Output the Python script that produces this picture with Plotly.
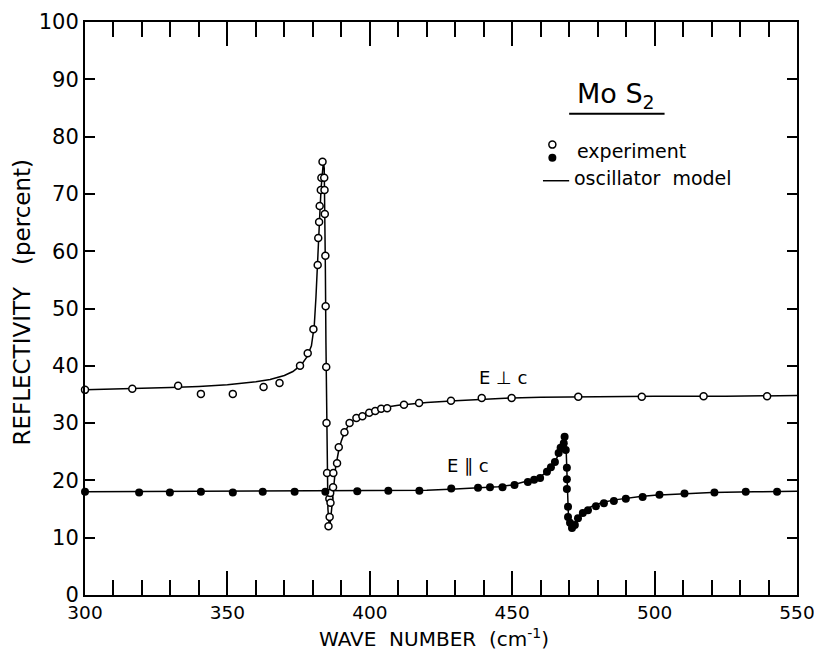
import plotly.graph_objects as go

# ---- data ----
perp_exp_x = [300, 316.6, 332.7, 340.7, 351.9, 362.7, 368.3, 375.5, 378.2, 380.2,
              381.7, 381.9, 382.2, 382.4, 382.8, 383.0, 383.4,
              384.0, 384.1, 384.2, 384.4, 384.5, 384.7, 384.8, 385.0,
              385.8, 386.2, 385.9, 385.5, 386.1, 387.1, 387.2,
              388.5, 389.1, 391.1, 392.9, 395.3, 397.4, 399.8, 401.9, 404.0, 406.1,
              412.0, 417.3, 428.5, 439.3, 449.8, 473.2, 495.5, 517.2, 539.5]
perp_exp_y = [35.8, 36.0, 36.5, 35.1, 35.1, 36.3, 37.0, 40.0, 42.2, 46.4,
              57.6, 62.3, 65.1, 67.9, 70.7, 72.8, 75.6,
              72.8, 70.7, 66.5, 59.2, 50.4, 39.8, 30.0, 21.3,
              16.8, 16.1, 13.6, 12.0, 17.8, 18.8, 21.3,
              23.0, 25.8, 28.4, 30.0, 30.9, 31.2, 31.8, 32.1, 32.5, 32.6,
              33.2, 33.5, 33.9, 34.4, 34.4, 34.6, 34.6, 34.7, 34.7]

par_exp_x = [300, 319.0, 329.8, 340.7, 351.9, 362.4, 373.6, 384.4, 395.6, 406.5,
             417.4, 428.6, 438.0, 442.2, 446.6, 450.8, 455.5, 457.7, 459.8, 462.2,
             463.6, 465.0, 466.3, 467.0, 468.1, 468.4, 468.8, 469.2, 469.2, 469.2,
             469.6, 469.6, 470.3, 471.0, 472.0, 473.1, 474.8, 476.6, 479.4, 482.2,
             485.7, 489.9, 495.8, 501.7, 510.5, 521.0, 532.0, 543.0]
par_exp_y = [18.0, 17.9, 17.9, 18.0, 17.9, 18.0, 18.0, 18.0, 18.1, 18.2,
             18.2, 18.6, 18.7, 18.8, 18.8, 19.2, 19.7, 20.1, 20.4, 21.5,
             22.3, 23.2, 24.8, 25.7, 26.5, 27.6, 25.3, 22.2, 20.2, 18.5,
             15.4, 13.6, 12.6, 11.7, 12.2, 13.4, 14.3, 14.8, 15.5, 16.0,
             16.4, 16.8, 17.1, 17.5, 17.7, 17.9, 18.0, 18.0]

perp_model_x = [300, 310, 320, 330, 340, 350, 360, 365, 370, 373, 376, 378, 379.5,
                380.5, 381.1, 381.7, 382.1, 382.5, 382.9, 383.3, 383.7, 384.0,
                384.2, 384.4, 384.6, 384.8, 385.0, 385.3, 385.7, 386.1, 386.6,
                387.2, 388.0, 389.0, 390.0, 391.0, 392.5, 394, 396, 398, 400, 403,
                406, 410, 415, 420, 430, 440, 450, 460, 475, 500, 525, 550]
perp_model_y = [35.8, 35.9, 36.0, 36.2, 36.4, 36.7, 37.2, 37.6, 38.3, 39.0, 40.2, 41.6,
                43.5, 47.0, 52.0, 57.5, 62.5, 67.0, 71.0, 74.3, 75.6, 74.5,
                68.0, 57.0, 44.0, 31.0, 21.0, 15.0, 12.3, 12.5, 15.0,
                18.8, 22.3, 25.0, 26.9, 28.2, 29.6, 30.4, 31.0, 31.5, 31.9, 32.4,
                32.8, 33.1, 33.4, 33.6, 33.9, 34.2, 34.4, 34.5, 34.6, 34.7, 34.7, 34.8]

par_model_x = [300, 350, 400, 420, 430, 440, 445, 450, 454, 457, 460, 462, 463.5,
               465, 466.3, 467.3, 468.0, 468.5, 468.9, 469.2, 469.5, 469.8, 470.2,
               470.7, 471.2, 472, 473, 474.5, 476.5, 479, 482, 486, 490, 495, 500,
               510, 520, 535, 550]
par_model_y = [18.0, 18.1, 18.2, 18.3, 18.5, 18.7, 18.9, 19.2, 19.7, 20.1, 20.7, 21.4,
               22.2, 23.2, 24.6, 26.0, 27.2, 27.8, 26.0, 21.0, 16.0, 13.0, 11.8,
               11.5, 11.8, 12.5, 13.5, 14.4, 15.1, 15.7, 16.2, 16.6, 16.9, 17.2,
               17.4, 17.7, 17.9, 18.0, 18.1]

FONT = "DejaVu Sans"

fig = go.Figure()
fig.add_trace(go.Scatter(x=perp_model_x, y=perp_model_y, mode="lines",
                         line=dict(color="black", width=1.5), showlegend=False))
fig.add_trace(go.Scatter(x=par_model_x, y=par_model_y, mode="lines",
                         line=dict(color="black", width=1.5), showlegend=False))
fig.add_trace(go.Scatter(x=perp_exp_x, y=perp_exp_y, mode="markers",
                         marker=dict(symbol="circle", size=7, color="white",
                                     line=dict(color="black", width=1.5)),
                         showlegend=False, cliponaxis=False))
fig.add_trace(go.Scatter(x=par_exp_x, y=par_exp_y, mode="markers",
                         marker=dict(symbol="circle", size=8, color="black",
                                     line=dict(color="black", width=0)),
                         showlegend=False, cliponaxis=False))

# legend-like symbols inside the plot
fig.add_trace(go.Scatter(x=[464.1], y=[78.6], mode="markers",
                         marker=dict(symbol="circle", size=7, color="white",
                                     line=dict(color="black", width=1.5)),
                         showlegend=False))
fig.add_trace(go.Scatter(x=[464.1], y=[76.3], mode="markers",
                         marker=dict(symbol="circle", size=8, color="black"),
                         showlegend=False))
fig.add_trace(go.Scatter(x=[460.8, 470.0], y=[72.3, 72.3], mode="lines",
                         line=dict(color="black", width=1.5), showlegend=False))
fig.add_trace(go.Scatter(x=[470.0, 503.5], y=[84.0, 84.0], mode="lines",
                         line=dict(color="black", width=2), showlegend=False))

ann = [
    dict(x=486.5, y=87.2, text="Mo S<sub>2</sub>", size=27),
    dict(x=472.0, y=77.5, text="experiment", xanchor="left", size=19),
    dict(x=471.0, y=72.8, text="oscillator  model", xanchor="left", size=19),
    dict(x=446.6, y=37.9, text="E \u22a5 c", size=18),
    dict(x=434.4, y=22.6, text="E \u2225 c", size=18),
]
annotations = []
for a in ann:
    d = dict(xref="x", yref="y", showarrow=False,
             font=dict(family=FONT, color="black", size=a["size"]))
    d.update({k: v for k, v in a.items() if k != "size"})
    annotations.append(d)

annotations.append(dict(xref="paper", yref="paper", x=0.49, y=-0.075, showarrow=False,
                        text="WAVE  NUMBER  (cm<sup>-1</sup>)", xanchor="center", yanchor="middle",
                        font=dict(family=FONT, size=20, color="black")))
annotations.append(dict(xref="paper", yref="paper", x=-0.088, y=0.511, showarrow=False,
                        text="REFLECTIVITY   (percent)", textangle=-90,
                        xanchor="center", yanchor="middle",
                        font=dict(family=FONT, size=23, color="black")))

fig.update_layout(
    width=814, height=657,
    margin=dict(l=85, r=17, t=22, b=62, autoexpand=False),
    paper_bgcolor="white", plot_bgcolor="white",
    font=dict(family=FONT, color="black"),
    annotations=annotations,
    showlegend=False,
)
fig.update_xaxes(range=[300, 550], dtick=50, tick0=300, ticks="inside", ticklen=24,
                 tickwidth=1.5, tickcolor="black", showline=True, linecolor="black",
                 linewidth=2, mirror="ticks", showgrid=False, zeroline=False,
                 ticklabeloverflow="allow", automargin=False,
                 tickfont=dict(family=FONT, size=18.5, color="black"),
                 minor=dict(dtick=10, ticks="inside", ticklen=15, tickwidth=1.5,
                            tickcolor="black", showgrid=False))
fig.update_yaxes(range=[0, 100], dtick=10, tick0=0, ticks="inside", ticklen=10,
                 tickwidth=1.5, tickcolor="black", showline=True, linecolor="black",
                 linewidth=2, mirror="ticks", showgrid=False, zeroline=False,
                 automargin=False,
                 tickfont=dict(family=FONT, size=21, color="black"))

fig.write_html("out.html")
